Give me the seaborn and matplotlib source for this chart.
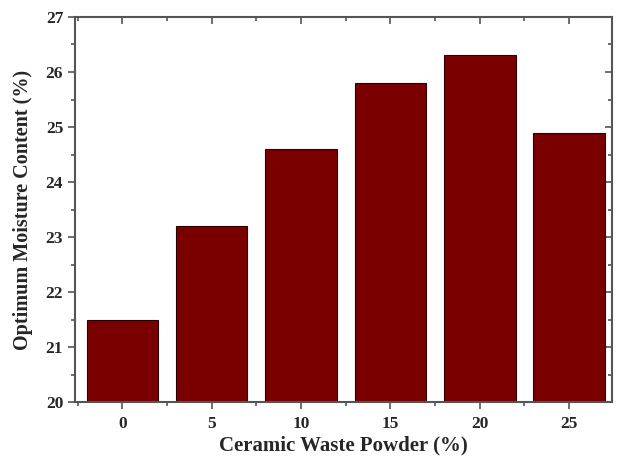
import pandas as pd
import numpy as np

import matplotlib
matplotlib.use("Agg")
import matplotlib.pyplot as plt
import seaborn as sns
from matplotlib.ticker import MultipleLocator

cwp = ["0", "5", "10", "15", "20", "25"]
omc = [21.5, 23.2, 24.6, 25.8, 26.3, 24.9]

df = pd.DataFrame({"CWP": cwp, "OMC": omc})

sns.set_style("ticks")
plt.rcParams["font.family"] = ["Liberation Serif", "DejaVu Serif"]
plt.rcParams["font.weight"] = "bold"

fig = plt.figure(figsize=(6.17, 4.59), dpi=100)
ax = fig.add_axes([0.1216, 0.124, 0.8704, 0.839])

sns.barplot(
    x="CWP",
    y="OMC",
    data=df,
    order=cwp,
    color="#7a0000",
    saturation=1,
    width=0.8,
    edgecolor="#2a0000",
    linewidth=0.8,
    ax=ax
)

ax.set_ylim(20, 27)
ax.set_xlim(-0.53, 5.48)
ax.yaxis.set_major_locator(MultipleLocator(1))
ax.yaxis.set_minor_locator(MultipleLocator(0.5))
ax.xaxis.set_minor_locator(MultipleLocator(0.5))

for s in ax.spines.values():
    s.set_visible(True)
    s.set_color("#555555")
    s.set_linewidth(1.5)

ax.tick_params(axis="both", which="major", direction="out", length=5, width=1.2,
               color="#555555", labelsize=12.5)
ax.tick_params(axis="both", which="minor", direction="out", length=3, width=1.2,
               color="#555555")
ax.tick_params(top=True, right=True, which="both")
ax.tick_params(axis="x", which="major", pad=5)

# top and right ticks point inward
for t in ax.xaxis.get_major_ticks() + ax.xaxis.get_minor_ticks():
    t.tick2line.set_marker(matplotlib.lines.TICKDOWN)
for t in ax.yaxis.get_major_ticks() + ax.yaxis.get_minor_ticks():
    t.tick2line.set_marker(matplotlib.lines.TICKLEFT)

ax.set_xlabel("Ceramic Waste Powder (%)", fontsize=15, fontweight="bold")
ax.xaxis.set_label_coords(0.5, -0.088)
ax.set_ylabel("Optimum Moisture Content (%)", fontsize=14.5, fontweight="bold", labelpad=9)

plt.savefig("out.png", dpi=100)
